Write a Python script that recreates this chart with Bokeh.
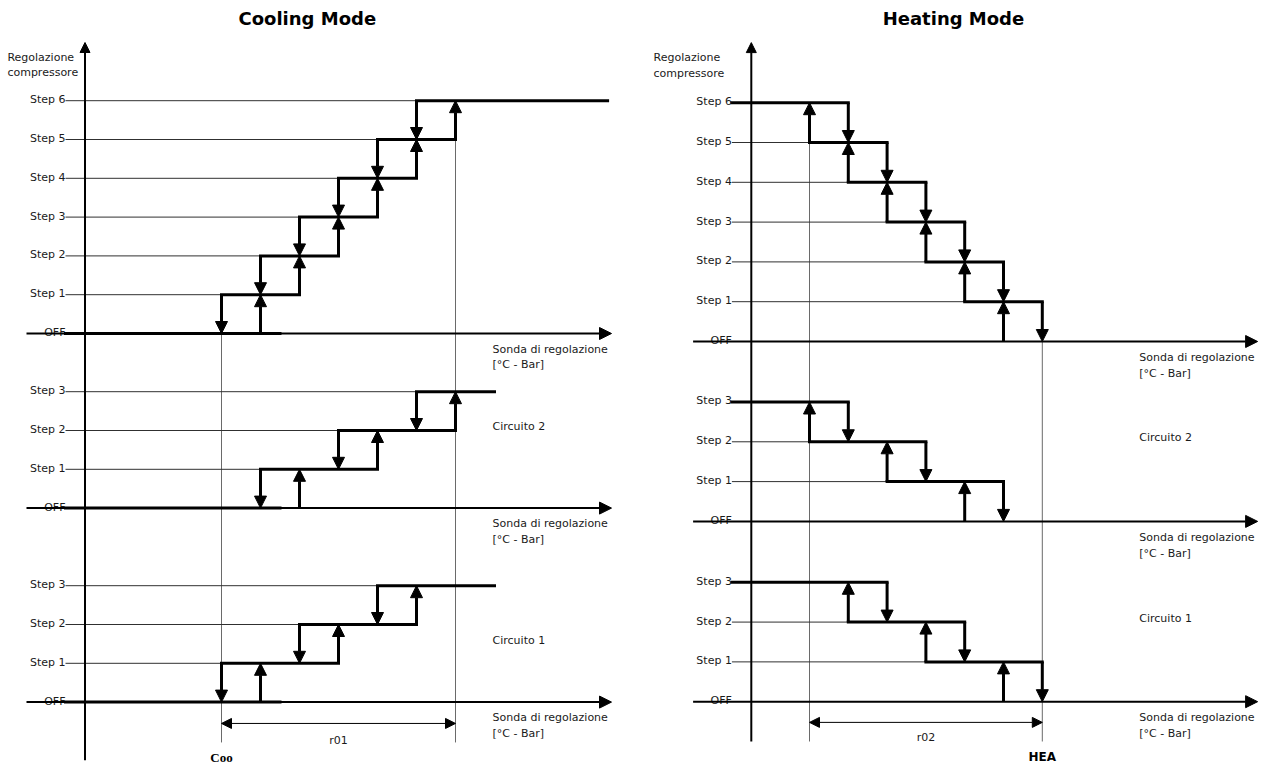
from bokeh.plotting import figure
from bokeh.models import Range1d, ColumnDataSource, Arrow, NormalHead
from bokeh.layouts import row
from bokeh.core.properties import value
from bokeh.embed import file_html
from bokeh.resources import INLINE

# ------------------------------------------------------------------ data
titles = ["Cooling Mode", "Heating Mode"]
y_title = ["Regolazione", "compressore"]
x_title = ["Sonda di regolazione", "[°C - Bar]"]
steps_main = ["OFF", "Step 1", "Step 2", "Step 3", "Step 4", "Step 5", "Step 6"]
steps_circuit = ["OFF", "Step 1", "Step 2", "Step 3"]
circuit_names = ["", "Circuito 2", "Circuito 1"]

# switch-on / switch-off threshold of step k (k = 1..n), expressed in
# multiples of the step differential, counted from the set point side
cool_main_on = [1, 2, 3, 4, 5, 6]
cool_main_off = [0, 1, 2, 3, 4, 5]
cool_c2_on = [2, 4, 6]
cool_c2_off = [1, 3, 5]
cool_c1_on = [1, 3, 5]
cool_c1_off = [0, 2, 4]

heat_main_on = [5, 4, 3, 2, 1, 0]
heat_main_off = [6, 5, 4, 3, 2, 1]
heat_c2_on = [4, 2, 0]
heat_c2_off = [5, 3, 1]
heat_c1_on = [5, 3, 1]
heat_c1_off = [6, 4, 2]

set_point_names = ["Coo", "HEA"]
set_point_pos = [0, 6]
band_names = ["r01", "r02"]
band_start = [0, 0]
band_end = [6, 6]

# ------------------------------------------------------------------ layout
H = 767
TOP = 0
FONT = value("DejaVu Sans")
TXT = "#1a1a1a"


def make_fig(width, page_left, ox, sx, oy, sy):
    x0 = (page_left - ox) / sx
    x1 = (page_left + width - ox) / sx
    ytop = (oy - TOP) / sy
    ybot = (oy - (TOP + H)) / sy
    p = figure(width=width, height=H, x_range=Range1d(x0, x1),
               y_range=Range1d(ybot, ytop), output_backend="svg",
               toolbar_location=None, x_axis_location=None,
               y_axis_location=None, min_border=0)
    p.grid.grid_line_color = None
    p.outline_line_color = None
    p.background_fill_color = "white"
    p.border_fill_color = "white"
    return p


def arrows(p, xs0, ys0, xs1, ys1, width, head, start_head=False):
    src = ColumnDataSource(dict(x0=xs0, y0=ys0, x1=xs1, y1=ys1))
    kw = {}
    if start_head:
        kw["start"] = NormalHead(size=head, fill_color="black",
                                 line_color="black", line_width=1)
    p.add_layout(Arrow(end=NormalHead(size=head, fill_color="black",
                                      line_color="black", line_width=1),
                       x_start="x0", y_start="y0", x_end="x1", y_end="y1",
                       source=src, line_width=width, line_color="black", **kw))


def draw(p, cfg):
    thin = dict(x0=[], x1=[], y=[])
    thick = dict(x0=[], x1=[], y=[])
    ua = dict(x0=[], y0=[], x1=[], y1=[])
    lab = dict(x=[], y=[], t=[])
    le = cfg["label_end"]
    for base, labels, on, off, top_ext, cname, cdy in cfg["sections"]:
        n = len(on)
        for k in range(1, n + 1):
            vals = [on[k - 1], off[k - 1]]
            vals += [on[k], off[k]] if k < n else [top_ext]
            lo, hi = min(vals), max(vals)
            thick["x0"].append(lo); thick["x1"].append(hi); thick["y"].append(base + k)
            thin["x0"].append(le); thin["x1"].append(hi); thin["y"].append(base + k)
            # switch on (up)
            ua["x0"].append(on[k - 1]); ua["y0"].append(base + k - 1)
            ua["x1"].append(on[k - 1]); ua["y1"].append(base + k)
            # switch off (down)
            ua["x0"].append(off[k - 1]); ua["y0"].append(base + k)
            ua["x1"].append(off[k - 1]); ua["y1"].append(base + k - 1)
        for k in range(n + 1):
            lab["x"].append(le); lab["y"].append(base + k); lab["t"].append(labels[k])
        if cfg["off_bar"] is not None:
            thick["x0"].append(le); thick["x1"].append(cfg["off_bar"]); thick["y"].append(base)
        # x axis
        arrows(p, [cfg["ax0"]], [base], [cfg["ax1"]], [base], 2, 12)
        p.text(x=[cfg["xt"], cfg["xt"]], y=[base - 0.4, base - 0.8], text=x_title,
               text_font=FONT, text_font_size="11px", text_align="left",
               text_baseline="middle", text_color=TXT)
        if cname:
            p.text(x=[cfg["xt"]], y=[base + cdy], text=[cname], text_font=FONT,
                   text_font_size="11px", text_align="left",
                   text_baseline="middle", text_color=TXT)

    # vertical guides
    g = cfg["guides"]
    p.segment(x0=[a[0] for a in g], y0=[a[1] for a in g], x1=[a[0] for a in g],
              y1=[a[2] for a in g], line_color="#6a6a6a", line_width=1)
    p.segment(x0="x0", y0="y", x1="x1", y1="y", source=ColumnDataSource(thin),
              line_color="#303030", line_width=1)
    p.segment(x0="x0", y0="y", x1="x1", y1="y", source=ColumnDataSource(thick),
              line_color="black", line_width=3, line_cap="square")
    arrows(p, ua["x0"], ua["y0"], ua["x1"], ua["y1"], 3, 12)

    p.text(x="x", y="y", text="t", source=ColumnDataSource(lab), text_font=FONT,
           text_font_size="11px", text_align="right", text_baseline="alphabetic",
           text_color=TXT, y_offset=-1)

    # y axis
    arrows(p, [cfg["yx"]], [cfg["yb"]], [cfg["yx"]], [cfg["yt"]], 2, 10)
    p.text(x=[cfg["ylx"]] * 2, y=cfg["yly"], text=y_title, text_font=FONT,
           text_font_size="11px", text_align="left", text_baseline="middle",
           text_color=TXT)

    # band dimension
    i = cfg["idx"]
    arrows(p, [band_start[i]], [cfg["dim_y"]], [band_end[i]], [cfg["dim_y"]], 1, 10,
           start_head=True)
    p.text(x=[(band_start[i] + band_end[i]) / 2], y=[cfg["dim_ty"]], text=[band_names[i]],
           text_font=FONT, text_font_size="11px", text_align="center",
           text_baseline="middle", text_color=TXT)
    p.text(x=[set_point_pos[i]], y=[cfg["sp_y"]], text=[set_point_names[i]],
           text_font=cfg["sp_font"], text_font_size=cfg["sp_size"],
           text_font_style="bold", text_align="center", text_baseline="middle",
           text_color="black")
    p.text(x=[cfg["title_x"]], y=[cfg["title_y"]], text=[titles[i]], text_font=FONT,
           text_font_size="18px", text_font_style="bold", text_align="center",
           text_baseline="middle", text_color="black")


cool = make_fig(640, 0, 221, 39.0, 333, 38.8)
draw(cool, dict(
    idx=0, label_end=-4.0, off_bar=1.5, ax0=-5.0, ax1=10.0, xt=6.95,
    sections=[(0.0, steps_main, cool_main_on, cool_main_off, 9.9, "", 0),
              (-4.5, steps_circuit, cool_c2_on, cool_c2_off, 7.0, circuit_names[1], 2.1),
              (-9.5, steps_circuit, cool_c1_on, cool_c1_off, 7.0, circuit_names[2], 1.6)],
    guides=[(0, 0, -10.54), (6, 5, -10.54)],
    yx=-3.5, yb=-11.0, yt=7.5, ylx=-5.49, yly=[7.11, 6.73],
    dim_y=-10.05, dim_ty=-10.5, sp_y=-10.93, sp_font=value("Liberation Serif"),
    sp_size="13px", title_x=2.2, title_y=8.12))

heat = make_fig(623, 640, 809, 38.8, 341, 39.8)
draw(heat, dict(
    idx=1, label_end=-2.0, off_bar=None, ax0=-3.0, ax1=11.55, xt=8.5,
    sections=[(0.0, steps_main, heat_main_on, heat_main_off, -2.0, "", 0),
              (-4.52, steps_circuit, heat_c2_on, heat_c2_off, -2.0, circuit_names[1], 2.1),
              (-9.05, steps_circuit, heat_c1_on, heat_c1_off, -2.0, circuit_names[2], 2.1)],
    guides=[(0, 6, -10.05), (6, 0, -10.05)],
    yx=-1.5, yb=-10.05, yt=7.51, ylx=-4.02, yly=[7.14, 6.73],
    dim_y=-9.57, dim_ty=-9.95, sp_y=-10.45, sp_font=FONT,
    sp_size="12px", title_x=3.71, title_y=8.12))

layout = row(cool, heat, spacing=0)
open("out.html", "w").write(file_html(layout, INLINE))
